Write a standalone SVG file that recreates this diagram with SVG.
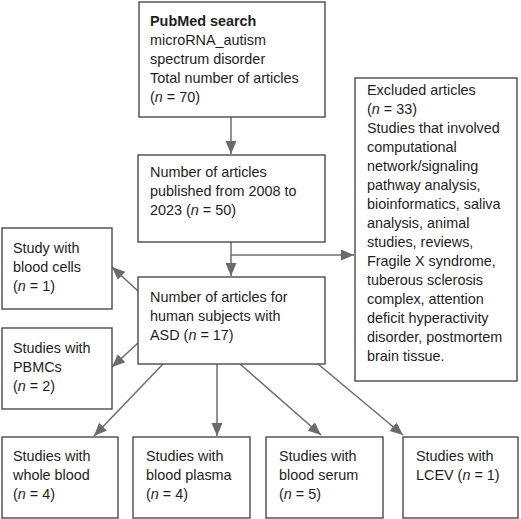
<svg xmlns="http://www.w3.org/2000/svg" width="521" height="519" viewBox="0 0 521 519">
<style>
.box{fill:#fff;stroke:#4a4a4a;stroke-width:1.4}
.t{font-family:"Liberation Sans",Arial,sans-serif;font-size:14.4px;fill:#1e1e1e}
.b{font-weight:bold}
.i{font-style:italic}
.c{stroke:#6b6b6b;stroke-width:1.5;fill:none}
</style>
<defs>
<marker id="ah" markerUnits="userSpaceOnUse" markerWidth="14" markerHeight="12" viewBox="0 0 14 12" refX="13" refY="6" orient="auto">
<path d="M0,0.5 L13,6 L0,11.5 Z" fill="#6b6b6b"/>
</marker>
</defs>
<rect width="521" height="519" fill="#fff"/>
<g id="connectors">
<line class="c" x1="231" y1="117" x2="231" y2="154" marker-end="url(#ah)"/>
<line class="c" x1="231" y1="242" x2="231" y2="276" marker-end="url(#ah)"/>
<line class="c" x1="231" y1="255" x2="354" y2="255" marker-end="url(#ah)"/>
<line class="c" x1="138" y1="291" x2="112" y2="267" marker-end="url(#ah)"/>
<line class="c" x1="138" y1="343" x2="112" y2="367" marker-end="url(#ah)"/>
<line class="c" x1="163" y1="364" x2="94" y2="436" marker-end="url(#ah)"/>
<line class="c" x1="217" y1="364" x2="217" y2="436" marker-end="url(#ah)"/>
<line class="c" x1="240" y1="364" x2="321" y2="435" marker-end="url(#ah)"/>
<line class="c" x1="318" y1="364" x2="403" y2="435" marker-end="url(#ah)"/>
</g>
<g id="pubmed">
<rect class="box" x="139" y="2" width="186" height="115"/>
<text class="t"><tspan class="b" x="150" y="26">PubMed search</tspan><tspan x="150" y="45">microRNA_autism</tspan><tspan x="150" y="64">spectrum disorder</tspan><tspan x="150" y="83">Total number of articles</tspan><tspan x="150" y="102">(<tspan class="i">n</tspan> = 70)</tspan></text>
</g>
<g id="published">
<rect class="box" x="138" y="155" width="187" height="87"/>
<text class="t"><tspan x="150" y="177">Number of articles</tspan><tspan x="150" y="196">published from 2008 to</tspan><tspan x="150" y="215">2023 (<tspan class="i">n</tspan> = 50)</tspan></text>
</g>
<g id="human">
<rect class="box" x="138" y="277" width="187" height="87"/>
<text class="t"><tspan x="150" y="302">Number of articles for</tspan><tspan x="150" y="321">human subjects with</tspan><tspan x="150" y="340">ASD (<tspan class="i">n</tspan> = 17)</tspan></text>
</g>
<g id="excluded">
<rect class="box" x="355" y="78" width="162" height="303"/>
<text class="t"><tspan x="367" y="95">Excluded articles</tspan><tspan x="367" y="114">(<tspan class="i">n</tspan> = 33)</tspan><tspan x="367" y="133">Studies that involved</tspan><tspan x="367" y="152">computational</tspan><tspan x="367" y="171">network/signaling</tspan><tspan x="367" y="190">pathway analysis,</tspan><tspan x="367" y="209">bioinformatics, saliva</tspan><tspan x="367" y="228">analysis, animal</tspan><tspan x="367" y="247">studies, reviews,</tspan><tspan x="367" y="266">Fragile X syndrome,</tspan><tspan x="367" y="285">tuberous sclerosis</tspan><tspan x="367" y="304">complex, attention</tspan><tspan x="367" y="323">deficit hyperactivity</tspan><tspan x="367" y="342">disorder, postmortem</tspan><tspan x="367" y="361">brain tissue.</tspan></text>
</g>
<g id="bloodcells">
<rect class="box" x="2" y="228" width="110" height="81"/>
<text class="t"><tspan x="13" y="253">Study with</tspan><tspan x="13" y="272">blood cells</tspan><tspan x="13" y="291">(<tspan class="i">n</tspan> = 1)</tspan></text>
</g>
<g id="pbmcs">
<rect class="box" x="2" y="328" width="110" height="81"/>
<text class="t"><tspan x="13" y="353">Studies with</tspan><tspan x="13" y="372">PBMCs</tspan><tspan x="13" y="391">(<tspan class="i">n</tspan> = 2)</tspan></text>
</g>
<g id="wholeblood">
<rect class="box" x="2" y="437" width="116" height="81"/>
<text class="t"><tspan x="13" y="461">Studies with</tspan><tspan x="13" y="480">whole blood</tspan><tspan x="13" y="499">(<tspan class="i">n</tspan> = 4)</tspan></text>
</g>
<g id="plasma">
<rect class="box" x="133" y="437" width="117" height="81"/>
<text class="t"><tspan x="146" y="461">Studies with</tspan><tspan x="146" y="480">blood plasma</tspan><tspan x="146" y="499">(<tspan class="i">n</tspan> = 4)</tspan></text>
</g>
<g id="serum">
<rect class="box" x="266" y="437" width="117" height="81"/>
<text class="t"><tspan x="279" y="461">Studies with</tspan><tspan x="279" y="480">blood serum</tspan><tspan x="279" y="499">(<tspan class="i">n</tspan> = 5)</tspan></text>
</g>
<g id="lcev">
<rect class="box" x="403" y="437" width="115" height="81"/>
<text class="t"><tspan x="416" y="461">Studies with</tspan><tspan x="416" y="480">LCEV (<tspan class="i">n</tspan> = 1)</tspan></text>
</g>
</svg>
